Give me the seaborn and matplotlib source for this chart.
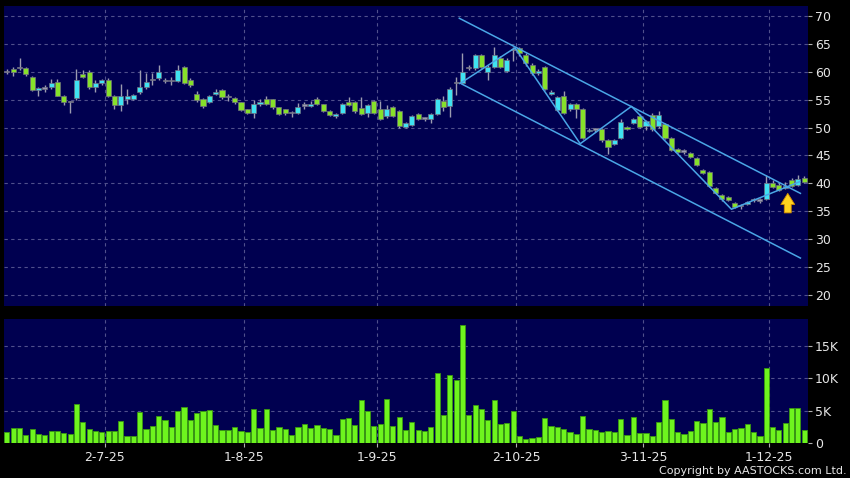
import numpy as np
import pandas as pd
import seaborn as sns
import matplotlib
matplotlib.use("Agg")
import matplotlib.pyplot as plt

# daily candles (index 0 = first trading day shown)
opens = [59.9, 60.5, 60.6, 60.6, 59.1, 56.8, 57.0, 57.2, 58.1, 55.6,
         54.5, 55.3, 59.6, 60.0, 57.2, 58.0, 58.6, 55.7, 54.1, 55.1,
         55.1, 56.3, 57.3, 58.5, 58.8, 58.4, 58.35, 58.4, 60.9, 58.5,
         56.1, 55.1, 54.6, 56.1, 56.7, 55.4, 55.3, 54.5, 53.3, 52.6,
         54.2, 55.1, 55.1, 53.6, 53.3, 52.6, 52.7, 53.9, 53.9, 55.1,
         54.2, 53.0, 52.1, 52.7, 54.5, 54.5, 53.5, 52.6, 54.8, 53.3,
         52.0, 53.7, 53.0, 50.1, 50.5, 52.5, 51.6, 51.6, 52.4, 54.8,
         53.9, 58.0, 58.0, 60.7, 60.6, 63.0, 60.0, 60.9, 62.5, 60.2,
         63.9, 64.2, 63.1, 61.3, 59.8, 60.9, 56.0, 53.2, 55.7, 53.3,
         54.2, 53.3, 49.4, 49.6, 49.7, 47.8, 47.1, 48.1, 50.1, 50.9,
         52.0, 50.2, 52.3, 50.2, 50.6, 48.1, 46.1, 45.7, 45.5, 44.6,
         42.4, 42.0, 39.1, 37.9, 37.5, 36.4, 35.95, 36.3, 37.0, 36.9,
         37.2, 40.1, 39.7, 39.1, 40.6, 39.7, 41.0]
closes = [59.9, 60.0, 60.6, 59.6, 56.7, 57.1, 57.0, 58.0, 55.7, 54.6,
          54.5, 58.5, 59.1, 57.2, 58.0, 58.5, 55.6, 54.1, 55.7, 55.6,
          55.8, 57.2, 58.2, 58.5, 59.9, 58.3, 58.35, 60.3, 58.0, 57.6,
          54.9, 53.9, 55.7, 56.4, 55.4, 55.4, 54.5, 53.2, 52.7, 54.2,
          54.5, 54.3, 53.6, 52.4, 52.6, 52.6, 53.7, 53.9, 54.3, 54.2,
          53.0, 52.3, 52.4, 54.2, 54.1, 52.9, 52.4, 54.0, 52.7, 51.5,
          53.3, 52.1, 50.2, 50.8, 52.0, 51.5, 51.6, 52.4, 55.1, 53.7,
          56.9, 58.0, 60.0, 60.7, 63.0, 60.9, 60.9, 63.0, 60.9, 62.1,
          63.9, 63.3, 61.5, 59.8, 60.2, 57.0, 56.4, 55.5, 52.6, 54.2,
          53.3, 48.1, 49.6, 49.6, 47.8, 46.6, 47.8, 51.0, 49.7, 51.5,
          50.1, 51.1, 49.7, 52.3, 48.1, 46.0, 45.6, 45.7, 44.8, 43.3,
          41.8, 39.5, 38.2, 37.1, 37.0, 35.8, 35.95, 36.6, 37.0, 36.9,
          40.1, 39.4, 38.8, 39.5, 39.6, 40.8, 40.3]
highs = [60.5, 60.9, 62.4, 60.8, 59.2, 57.2, 57.6, 58.7, 58.7, 55.8,
         54.7, 60.5, 60.3, 60.3, 58.6, 58.7, 58.8, 55.8, 57.8, 57.0,
         56.0, 60.3, 59.8, 59.8, 61.3, 58.9, 59.0, 61.3, 61.1, 58.8,
         56.6, 55.3, 55.9, 56.9, 56.9, 56.0, 55.5, 54.6, 53.4, 55.0,
         55.2, 55.6, 55.2, 53.7, 53.4, 53.0, 54.4, 54.5, 54.8, 55.4,
         54.3, 53.1, 52.6, 54.4, 55.4, 54.8, 55.4, 54.2, 55.0, 54.8,
         54.0, 53.9, 53.2, 51.0, 52.2, 52.7, 51.9, 52.6, 55.3, 55.6,
         57.3, 59.0, 63.3, 61.3, 63.2, 63.2, 61.2, 64.4, 62.8, 62.4,
         64.4, 64.5, 63.3, 61.5, 60.5, 61.1, 56.7, 55.7, 56.6, 54.4,
         54.4, 53.5, 49.9, 50.0, 49.9, 48.0, 48.0, 51.6, 50.3, 51.8,
         52.5, 51.3, 52.7, 53.0, 50.8, 48.3, 46.3, 46.2, 45.7, 44.8,
         42.6, 42.2, 39.3, 38.1, 37.7, 36.6, 36.3, 36.8, 37.4, 37.3,
         41.5, 40.6, 40.3, 40.3, 41.0, 41.5, 41.4]
lows = [59.6, 59.3, 60.4, 59.3, 56.5, 55.6, 56.4, 57.0, 55.6, 54.1,
        52.6, 55.0, 58.8, 57.0, 56.4, 57.6, 55.4, 53.3, 52.9, 54.2,
        55.0, 56.1, 57.0, 57.7, 58.6, 58.0, 57.7, 58.2, 57.8, 57.2,
        54.5, 53.5, 54.4, 55.9, 55.2, 54.7, 54.3, 53.0, 52.5, 51.8,
        53.8, 54.1, 53.4, 52.2, 52.3, 51.9, 52.5, 53.4, 53.7, 54.0,
        52.8, 52.0, 51.8, 52.5, 53.9, 52.7, 52.2, 51.9, 52.5, 51.3,
        51.8, 51.9, 49.9, 49.9, 50.3, 51.3, 51.2, 50.9, 52.2, 53.0,
        51.9, 55.8, 57.8, 60.3, 60.4, 60.6, 58.5, 60.7, 60.6, 60.0,
        62.0, 62.8, 61.0, 59.5, 59.5, 56.8, 55.8, 53.0, 52.4, 53.0,
        51.8, 47.9, 49.2, 49.2, 47.5, 45.2, 46.9, 47.9, 49.5, 50.7,
        49.9, 49.5, 49.4, 50.0, 47.9, 45.8, 45.4, 45.3, 44.6, 43.1,
        41.6, 39.3, 38.0, 36.9, 36.8, 35.5, 35.4, 36.1, 36.6, 36.4,
        37.0, 39.2, 38.6, 38.9, 39.3, 39.5, 40.1]
volume_k = [1.65, 2.4, 2.3, 1.2, 2.1, 1.45, 1.2, 1.85, 1.9, 1.6,
            1.4, 6.0, 3.25, 2.2, 1.8, 1.75, 1.9, 1.9, 3.35, 1.15,
            1.1, 4.8, 2.1, 2.7, 4.2, 3.6, 2.5, 4.95, 5.55, 3.5,
            4.6, 5.0, 5.15, 2.85, 2.05, 2.05, 2.5, 1.85, 1.65, 5.3,
            2.4, 5.2, 2.0, 2.5, 2.1, 1.2, 2.5, 2.95, 2.3, 2.85,
            2.4, 2.2, 1.2, 3.7, 3.85, 2.85, 6.7, 4.9, 2.7, 3.0,
            6.8, 2.7, 3.95, 1.95, 3.25, 1.95, 1.8, 2.5, 10.9, 4.3,
            10.5, 9.7, 18.25, 4.3, 5.9, 5.3, 3.6, 6.6, 2.95, 3.1,
            4.95, 1.15, 0.6, 0.8, 1.0, 3.85, 2.7, 2.5, 2.15, 1.7,
            1.45, 4.25, 2.2, 2.0, 1.75, 1.9, 1.75, 3.75, 1.3, 4.0,
            1.55, 1.5, 1.05, 3.3, 6.7, 3.75, 1.7, 1.4, 1.85, 3.45,
            3.15, 5.3, 3.3, 4.0, 1.65, 2.15, 2.35, 3.0, 1.7, 1.15,
            11.65, 2.55, 2.0, 3.15, 5.35, 5.4, 1.95]

date_ticks = [15.5, 37.5, 58.5, 80.5, 100.5, 120.5]
date_labels = ["2-7-25", "1-8-25", "1-9-25", "2-10-25", "3-11-25", "1-12-25"]
price_ticks = [20, 25, 30, 35, 40, 45, 50, 55, 60, 65, 70]
vol_ticks = [0, 5000, 10000, 15000]
vol_labels = ["0", "5K", "10K", "15K"]

# drawn trend lines (bar index, price)
upper_x, upper_y = [71.5, 125.4], [69.6, 38.2]
lower_x, lower_y = [71.9, 125.4], [57.8, 26.6]
zigzag_x = [71.6, 80.3, 90.6, 98.7, 114.5, 125.3]
zigzag_y = [57.9, 64.3, 47.1, 53.8, 35.35, 40.3]
arrow_x, arrow_tail, arrow_head = 123.4, 34.2, 38.7

df = pd.DataFrame({"open": opens, "close": closes, "high": highs,
                   "low": lows, "volume": np.array(volume_k) * 1000})
df["idx"] = np.arange(len(df))

NAVY = "#000050"
GRID = "#50508c"
CYAN = "#3fe3f2"
GREEN = "#86e12a"
DOJI = "#9a9ab4"
TXT = "#e6e6e6"

fig = plt.figure(figsize=(8.5, 4.78), dpi=100, facecolor="black")
ax_p = fig.add_axes([4 / 850, 1 - 306 / 478, 804 / 850, 300 / 478])
ax_v = fig.add_axes([4 / 850, 1 - 443 / 478, 804 / 850, 124 / 478])

for ax in (ax_p, ax_v):
    ax.set_facecolor(NAVY)
    for s in ax.spines.values():
        s.set_visible(False)
    ax.set_xlim(-0.45, 126.6)
    ax.yaxis.tick_right()
    ax.tick_params(axis="y", colors="#b0b0b0", labelcolor=TXT, length=3,
                   width=0.8, pad=2, labelsize=9)
    ax.set_axisbelow(True)

# candles
diff = df["close"] - df["open"]
colors = np.where(diff > 0.15, CYAN, np.where(diff < -0.15, GREEN, DOJI))
body_lo = np.minimum(df["open"], df["close"])
body_h = np.maximum(diff.abs(), 0.25)
ax_p.vlines(df["idx"], df["low"], df["high"], color="#9c9cb0", lw=1, zorder=2)
ax_p.bar(df["idx"], body_h, bottom=body_lo, width=0.8, color=colors,
         edgecolor="#707080", linewidth=0.5, zorder=3)

# channel + zigzag
line_kw = dict(color="#4aa6e6", lw=1.1, zorder=4)
ax_p.plot(upper_x, upper_y, **line_kw)
ax_p.plot(lower_x, lower_y, **line_kw)
ax_p.plot(zigzag_x, zigzag_y, **line_kw)
ax_p.annotate("", xy=(arrow_x, arrow_head), xytext=(arrow_x, arrow_tail),
              arrowprops=dict(arrowstyle="simple,head_length=0.8,head_width=1.0,tail_width=0.5",
                              fc="#ffd21e", ec="#d08a00", lw=0.6, mutation_scale=10),
              zorder=5)

ax_p.set_ylim(18.0, 71.8)
ax_p.set_yticks(price_ticks)
ax_p.set_xticks(date_ticks)
ax_p.tick_params(axis="x", length=0, labelbottom=False)
ax_p.grid(True, linestyle=(0, (3, 3)), color=GRID, linewidth=0.8)

# volume
sns.barplot(data=df, x="idx", y="volume", native_scale=True, ax=ax_v,
            color="#6ef41e", saturation=1, width=0.82,
            edgecolor="#3a9a10", linewidth=0.6, zorder=3)
ax_v.set_xlim(-0.45, 126.6)
ax_v.set_ylim(0, 19200)
ax_v.set_yticks(vol_ticks)
ax_v.set_yticklabels(vol_labels)
ax_v.set_xticks(date_ticks)
ax_v.set_xticklabels(date_labels)
ax_v.tick_params(axis="x", colors="#b0b0b0", labelcolor=TXT, length=3,
                 width=0.8, pad=3, labelsize=9)
ax_v.set_xlabel("")
ax_v.set_ylabel("")
ax_v.grid(True, linestyle=(0, (3, 3)), color=GRID, linewidth=0.8)

fig.text(847 / 850, 1 - 471 / 478, "Copyright by AASTOCKS.com Ltd.",
         ha="right", va="center", color=TXT, fontsize=8)

fig.savefig("out.png", dpi=100, facecolor="black")
